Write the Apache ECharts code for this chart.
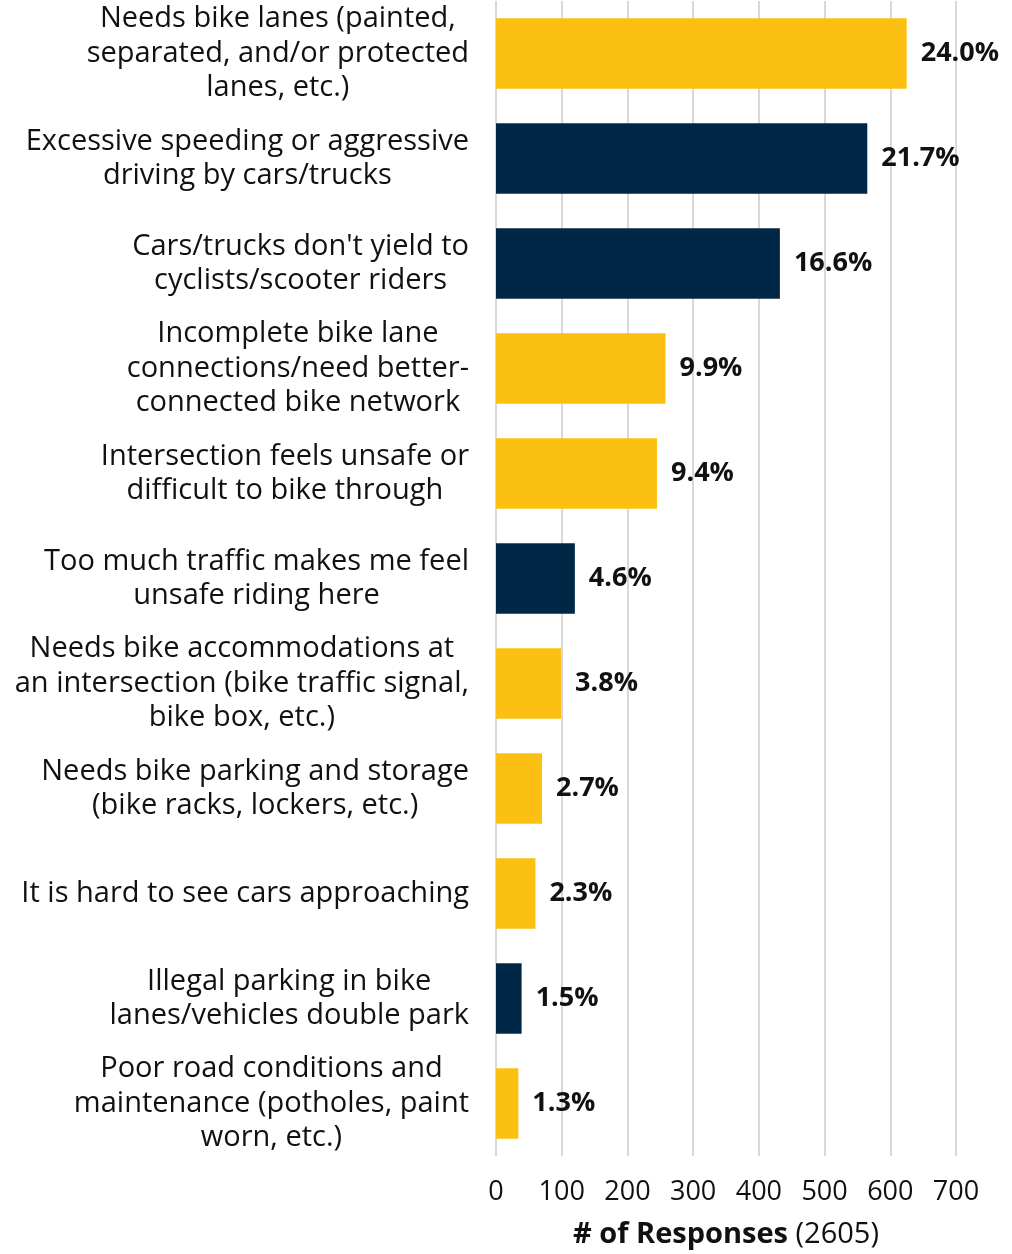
<!DOCTYPE html>
<html>
<head>
<meta charset="utf-8">
<script src="https://cdn.jsdelivr.net/npm/echarts@6/dist/echarts.min.js"></script>
<style>
html,body{margin:0;padding:0;background:#fff;}
#chart{width:1012px;height:1254px;}
</style>
</head>
<body>
<div id="chart"></div>
<script>
var categories = [
  ["Needs bike lanes (painted,", "separated, and/or protected", "lanes, etc.)"],
  ["Excessive speeding or aggressive", "driving by cars/trucks"],
  ["Cars/trucks don't yield to", "cyclists/scooter riders"],
  ["Incomplete bike lane", "connections/need better-", "connected bike network"],
  ["Intersection feels unsafe or", "difficult to bike through"],
  ["Too much traffic makes me feel", "unsafe riding here"],
  ["Needs bike accommodations at", "an intersection (bike traffic signal,", "bike box, etc.)"],
  ["Needs bike parking and storage", "(bike racks, lockers, etc.)"],
  ["It is hard to see cars approaching"],
  ["Illegal parking in bike", "lanes/vehicles double park"],
  ["Poor road conditions and", "maintenance (potholes, paint", "worn, etc.)"]
];
var responses = [625, 565, 432, 258, 245, 120, 99, 70, 60, 39, 34];
var percentLabels = ["24.0%", "21.7%", "16.6%", "9.9%", "9.4%", "4.6%", "3.8%", "2.7%", "2.3%", "1.5%", "1.3%"];
var barGroup = ["y", "n", "n", "y", "y", "n", "y", "y", "y", "n", "y"];
var xTicks = [0, 100, 200, 300, 400, 500, 600, 700];

var COLORS = { y: "#FCC012", n: "#002846" };
var FONT = "Open Sans";

var catNames = categories.map(function (c) { return c.join("\n"); });

var chart = echarts.init(document.getElementById("chart"), null, { renderer: "canvas" });
chart.setOption({
  backgroundColor: "#ffffff",
  animation: false,
  grid: { left: 496, right: 56, top: 1, height: 1155, containLabel: false, outerBoundsMode: "none" },
  xAxis: {
    type: "value",
    min: xTicks[0],
    max: xTicks[xTicks.length - 1],
    interval: 100,
    axisLine: { show: false },
    axisTick: { show: false },
    splitLine: { show: true, lineStyle: { color: "#d9d9d9", width: 2 } },
    axisLabel: { margin: 23, fontFamily: FONT, fontSize: 27, color: "#111" },
    name: "{b|# of Responses}{r| (2605)}",
    nameLocation: "middle",
    nameGap: 64,
    nameTextStyle: {
      rich: {
        b: { fontFamily: FONT, fontSize: 29, fontWeight: "bold", color: "#111" },
        r: { fontFamily: FONT, fontSize: 29, color: "#111" }
      }
    }
  },
  yAxis: {
    type: "category",
    inverse: true,
    data: catNames,
    axisLine: { show: false },
    axisTick: { show: false },
    splitLine: { show: false },
    axisLabel: {
      margin: 27,
      align: "right",
      formatter: function (v) {
        return v.split("\n").map(function (l) { return "{c|" + l + "}"; }).join("\n");
      },
      rich: {
        c: { align: "center", fontFamily: FONT, fontSize: 29, lineHeight: 34.5, color: "#111" }
      }
    }
  },
  series: [{
    type: "bar",
    barCategoryGap: "33%",
    data: responses.map(function (v, i) {
      return { value: v, itemStyle: { color: COLORS[barGroup[i]] } };
    }),
    label: {
      show: true,
      position: "right",
      distance: 14,
      formatter: function (p) { return percentLabels[p.dataIndex]; },
      fontFamily: FONT,
      fontSize: 27,
      fontWeight: "bold",
      color: "#111"
    }
  }]
});
</script>
</body>
</html>
